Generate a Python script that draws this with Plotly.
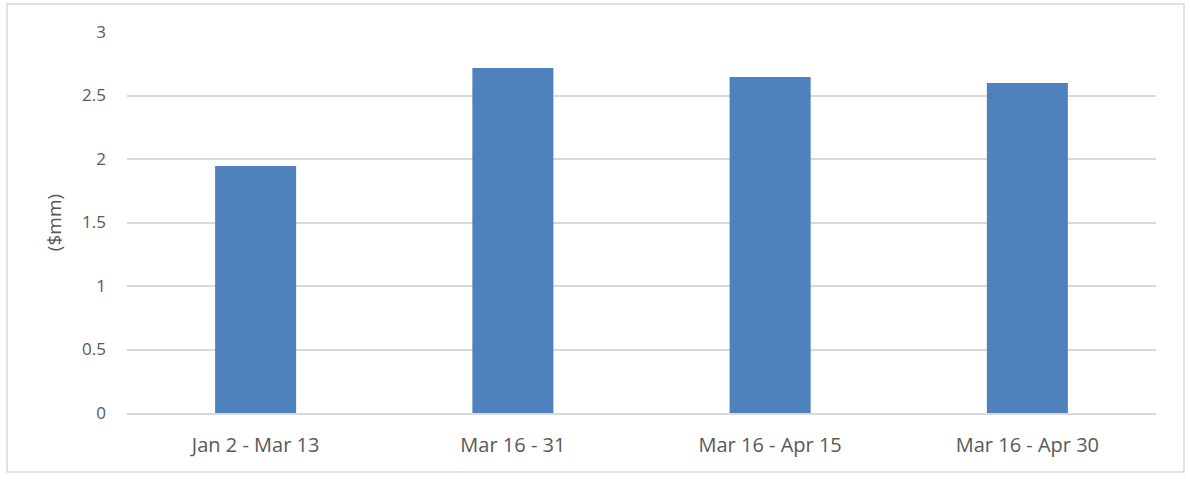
import plotly.graph_objects as go

categories = ["Jan 2 - Mar 13", "Mar 16 - 31", "Mar 16 - Apr 15", "Mar 16 - Apr 30"]
values = [1.945, 2.717, 2.646, 2.598]
y_ticks = [0, 0.5, 1, 1.5, 2, 2.5, 3]
y_tick_labels = ["0", "0.5", "1", "1.5", "2", "2.5", "3"]

L, R, T, B = 127, 34, 32, 66
W, H = 1190, 479
pw, ph = W - L - R, H - T - B

fig = go.Figure(go.Bar(x=categories, y=values, marker=dict(color="#4F81BD", line=dict(width=0))))

fig.update_layout(
    width=W, height=H,
    margin=dict(l=L, r=R, t=T, b=B),
    plot_bgcolor="white", paper_bgcolor="white",
    bargap=0.685,
    showlegend=False,
    font=dict(family="Open Sans, Lato, sans-serif", size=17, color="#595959"),
    xaxis=dict(showgrid=False, showline=True, linecolor="#d9d9d9", linewidth=1.5,
               ticks="", ticklabelstandoff=13, tickfont=dict(size=20)),
    yaxis=dict(range=[0, 3], tickvals=y_ticks, ticktext=y_tick_labels,
               showgrid=True, gridcolor="#d9d9d9", gridwidth=1.5, zeroline=False,
               showline=False, ticks="", ticklabelstandoff=20, tickfont=dict(size=17),
               title=dict(text="($mm)", standoff=15, font=dict(size=19))),
    shapes=[dict(type="rect", xref="paper", yref="paper",
                 x0=(7 - L) / pw, x1=(1184 - L) / pw,
                 y0=-(472 - (H - B)) / ph, y1=1 + (T - 4) / ph,
                 line=dict(color="#d9d9d9", width=1.5), fillcolor="rgba(0,0,0,0)", layer="below")],
)

fig.write_html("out.html", config={"displayModeBar": False},
               post_script="document.body.style.margin='0';document.body.style.overflow='hidden';")
